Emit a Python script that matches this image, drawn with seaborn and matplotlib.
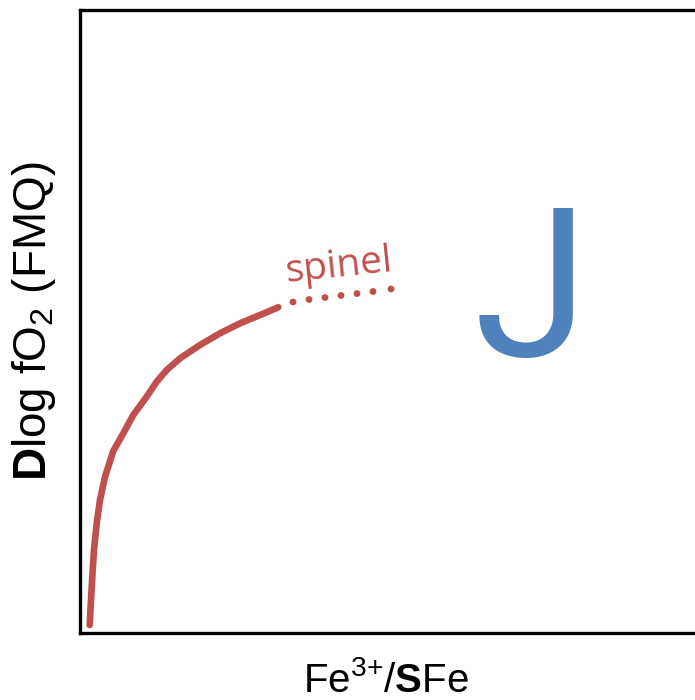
import matplotlib
matplotlib.use("Agg")
import matplotlib.pyplot as plt
import seaborn as sns
import pandas as pd

# Oxygen fugacity trend along the spinel field (schematic units)
spinel_x = [0.153, 0.173, 0.194, 0.220, 0.263, 0.315, 0.394, 0.524, 0.682, 0.839,
            1.050, 1.208, 1.365, 1.575, 1.890, 2.205, 2.520, 2.835, 3.123]
spinel_y = [0.128, 0.530, 0.904, 1.332, 1.761, 2.135, 2.509, 2.921, 3.205, 3.499,
            3.793, 4.034, 4.221, 4.409, 4.623, 4.811, 4.971, 5.104, 5.228]
# Extrapolated continuation, drawn dotted
extrap_x = [3.354, 3.606, 3.858, 4.110, 4.362, 4.614, 4.898]
extrap_y = [5.313, 5.353, 5.385, 5.417, 5.449, 5.481, 5.522]

RED = "#c0504d"
BLUE = "#4f81bd"

sns.set_theme(style="white")
plt.rcParams["font.family"] = ["Liberation Sans", "DejaVu Sans"]
plt.rcParams["mathtext.fontset"] = "custom"
plt.rcParams["mathtext.rm"] = "Liberation Sans"
plt.rcParams["mathtext.bf"] = "Liberation Sans:bold"
plt.rcParams["mathtext.it"] = "Liberation Sans"

W, H = 695, 700
fig = plt.figure(figsize=(W / 100, H / 100), dpi=100)
left, right, top, bottom = 80, 715, 10, 633
ax = fig.add_axes([left / W, 1 - bottom / H, (right - left) / W, (bottom - top) / H])

df_solid = pd.DataFrame({"x": spinel_x, "y": spinel_y})
df_dot = pd.DataFrame({"x": extrap_x, "y": extrap_y})
sns.lineplot(data=df_solid, x="x", y="y", ax=ax, color=RED, lw=4.8,
             solid_capstyle="round", solid_joinstyle="round", sort=False)
sns.scatterplot(data=df_dot, x="x", y="y", ax=ax, color=RED, s=24,
                edgecolor="none")

ax.text(4.07, 5.88, "spinel", color=RED, fontsize=28, rotation=6,
        ha="center", va="center", family=["Open Sans", "DejaVu Sans"])
ax.text(7.1, 4.45, "J", color=BLUE, fontsize=150, ha="center", va="baseline",
        family=["Roboto", "DejaVu Sans"])

ax.set_xlim(0, 10)
ax.set_ylim(0, 10)
ax.set_xticks([])
ax.set_yticks([])
for side in ["left", "top", "bottom"]:
    ax.spines[side].set_visible(True)
    ax.spines[side].set_color("black")
    ax.spines[side].set_linewidth(2.4)
ax.spines["right"].set_visible(False)

ax.set_xlabel(r"Fe$^{3{+}}$/$\mathbf{S}$Fe", fontsize=29, color="black")
ax.set_ylabel(r"$\mathbf{D}$log fO$_2$ (FMQ)", fontsize=33, color="black")
ax.xaxis.set_label_coords((386 - left) / (right - left), -(680 - bottom) / (bottom - top))
ax.yaxis.set_label_coords(-(left - 34) / (right - left), 0.5)
ax.xaxis.label.set_va("center")
ax.yaxis.label.set_va("center")

fig.savefig("out.png", dpi=100)
